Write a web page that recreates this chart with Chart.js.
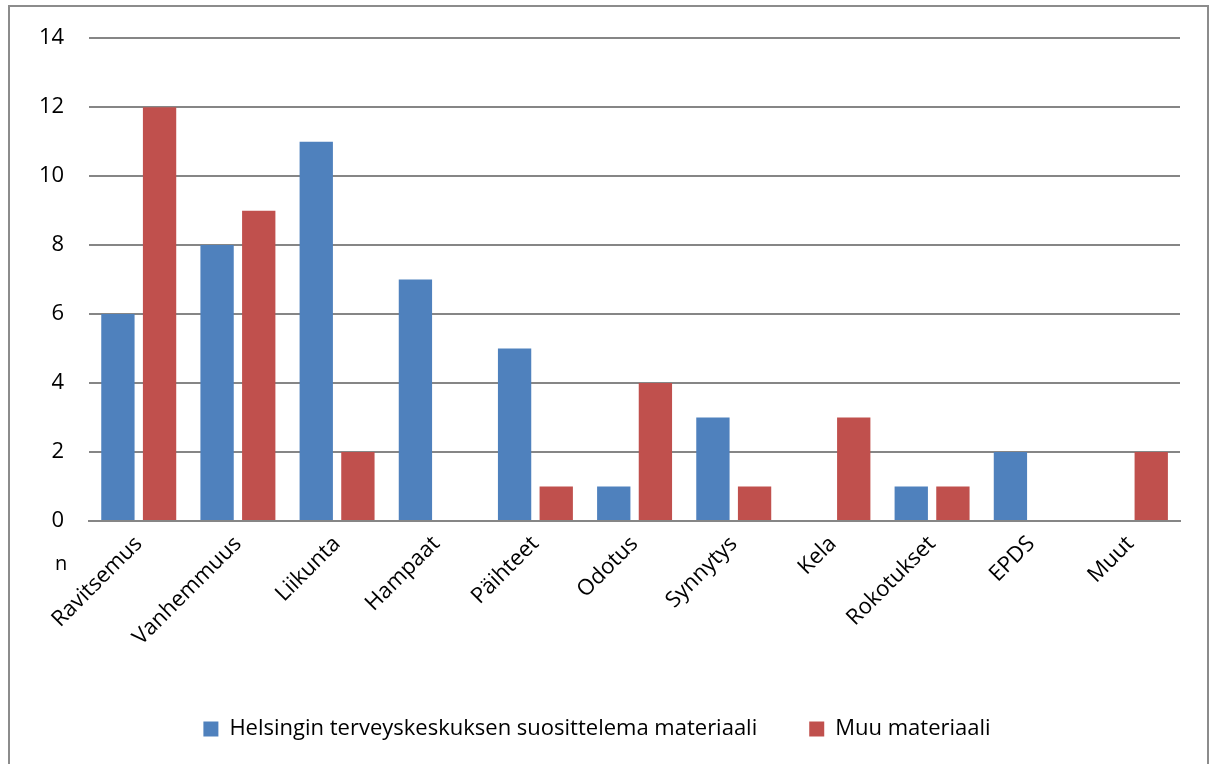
<!DOCTYPE html>
<html>
<head>
<meta charset="utf-8">
<script src="https://cdn.jsdelivr.net/npm/chart.js@4"></script>
<style>
  html, body { margin: 0; padding: 0; background: #fff; }
  #wrap { width: 1216px; height: 764px; }
</style>
</head>
<body>
<div id="wrap"><canvas id="chart" width="1216" height="764"></canvas></div>
<script>
// Aiheet ja vastausmäärät
const categories = ['Ravitsemus', 'Vanhemmuus', 'Liikunta', 'Hampaat', 'Päihteet', 'Odotus',
                    'Synnytys', 'Kela', 'Rokotukset', 'EPDS', 'Muut'];
const helsinkiValues = [6, 8, 11, 7, 5, 1, 3, 0, 1, 2, 0];
const otherValues = [12, 9, 2, 0, 1, 4, 1, 3, 1, 0, 2];
const yTicks = [0, 2, 4, 6, 8, 10, 12, 14];

const FONT = "'Open Sans', 'Liberation Sans', sans-serif";
const FONT_SIZE = 22;

// Frame around the whole chart and the "n" label under the y axis
const framePlugin = {
    id: 'frame',
    afterDraw(chart) {
        const ctx = chart.ctx;
        const area = chart.chartArea;
        ctx.save();
        ctx.strokeStyle = '#8c8c8c';
        ctx.lineWidth = 2;
        ctx.strokeRect(9, 6, 1199, 760);
        ctx.fillStyle = '#000';
        ctx.font = '20px ' + FONT;
        ctx.textAlign = 'center';
        ctx.textBaseline = 'middle';
        ctx.fillText('n', area.left - 28, area.bottom + 43);
        ctx.restore();
    }
};

new Chart(document.getElementById('chart'), {
    type: 'bar',
    data: {
        labels: categories,
        datasets: [
            {
                label: 'Helsingin terveyskeskuksen suosittelema materiaali',
                data: helsinkiValues,
                backgroundColor: '#4F81BD',
                categoryPercentage: 0.84,
                barPercentage: 0.8
            },
            {
                label: 'Muu materiaali',
                data: otherValues,
                backgroundColor: '#C0504D',
                categoryPercentage: 0.84,
                barPercentage: 0.8
            }
        ]
    },
    options: {
        responsive: false,
        animation: false,
        layout: {
            padding: { top: 26, right: 36, bottom: 14, left: 14 }
        },
        scales: {
            x: {
                grid: { display: false, drawTicks: false },
                border: { color: '#868686', width: 2 },
                ticks: {
                    color: '#000',
                    font: { family: FONT, size: FONT_SIZE },
                    maxRotation: 45,
                    minRotation: 45,
                    padding: 10
                },
                afterFit(axis) {
                    axis.height = 145;
                }
            },
            y: {
                min: 0,
                max: 14,
                afterBuildTicks(axis) {
                    axis.ticks = yTicks.map(v => ({ value: v }));
                },
                grid: { color: '#868686', lineWidth: 2, drawTicks: false },
                border: { display: false },
                ticks: {
                    color: '#000',
                    font: { family: FONT, size: FONT_SIZE },
                    padding: 25
                }
            }
        },
        plugins: {
            legend: {
                position: 'bottom',
                labels: {
                    color: '#000',
                    font: { family: FONT, size: FONT_SIZE },
                    boxWidth: 15,
                    boxHeight: 15,
                    padding: 52
                }
            },
            tooltip: { enabled: false }
        }
    },
    plugins: [framePlugin]
});
</script>
</body>
</html>
